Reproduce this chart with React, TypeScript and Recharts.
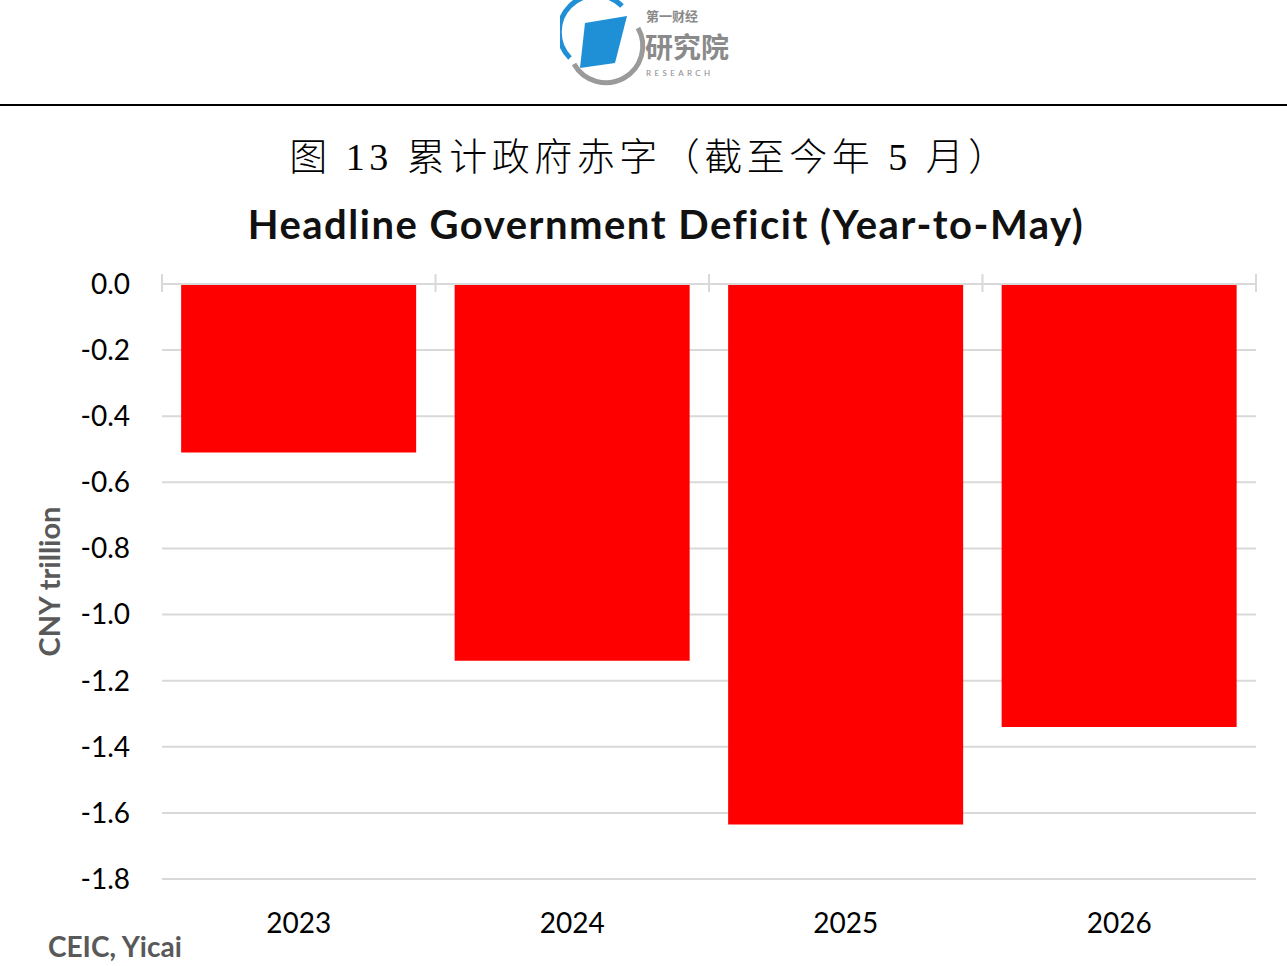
import { Bar, BarChart, CartesianGrid, XAxis, YAxis } from "recharts";

const years = ["2023", "2024", "2025", "2026"];
const deficit = [-0.51, -1.14, -1.635, -1.34];
const yTicks = [0, -0.2, -0.4, -0.6, -0.8, -1.0, -1.2, -1.4, -1.6, -1.8];

const data = years.map((year, i) => ({ year, deficit: deficit[i] }));

const sans = "Lato, 'Open Sans', 'Noto Sans', sans-serif";
const grid = "#d9d9d9";

const W = 1287;
const H = 966;
const margin = { top: 254, right: 31, left: 62, bottom: 17 };
const yAxisWidth = 100;
const band = (W - margin.left - margin.right - yAxisWidth) / years.length;

// category separators on the zero line, crossing it like Excel's tick marks
const EdgeTick = ({ x, y, index }: any) => {
  const left = x - band / 2;
  return (
    <g>
      <line x1={left} x2={left} y1={y - 10} y2={y + 8} stroke={grid} strokeWidth={2} />
      {index === years.length - 1 && (
        <line x1={x + band / 2} x2={x + band / 2} y1={y - 10} y2={y + 8} stroke={grid} strokeWidth={2} />
      )}
    </g>
  );
};

const Logo = () => (
  <svg width={200} height={90} style={{ position: "absolute", left: 560, top: 0 }}>
    <path d="M 62 6 A 36 36 0 0 0 10 58" fill="none" stroke="#1f8fd6" strokeWidth={5} />
    <path d="M 14 64 A 36 36 0 0 0 78 28" fill="none" stroke="#9a9a9a" strokeWidth={5} />
    <polygon points="25,23 67,16 55,63 20,68" fill="#1f8fd6" />
    <text x={86} y={21} fontSize={13} fill="#8a8a8a" fontFamily="'Noto Sans CJK SC'" fontWeight={700}>
      第一财经
    </text>
    <text x={85} y={58} fontSize={28} fill="#8a8a8a" fontFamily="'Noto Sans CJK SC'" fontWeight={700}>
      研究院
    </text>
    <text x={86} y={76} fontSize={8} fill="#8a8a8a" fontFamily={sans} letterSpacing={3.4}>
      RESEARCH
    </text>
  </svg>
);

export default function App() {
  return (
    <div style={{ position: "absolute", left: 0, top: 0, width: W, height: H, background: "#fff" }}>
      <Logo />
      <div style={{ position: "absolute", left: 0, top: 104, width: W, height: 2, background: "#000" }} />
      <div
        style={{
          position: "absolute",
          left: 0,
          top: 131,
          width: 1300,
          textAlign: "center",
          fontSize: 38,
          lineHeight: "52px",
          letterSpacing: 4.5,
          fontWeight: 300,
          fontFamily: "'Liberation Serif', 'Noto Sans CJK SC', serif",
          color: "#000",
          whiteSpace: "pre",
        }}
      >
        图 13 累计政府赤字（截至今年 5 月）
      </div>
      <div
        style={{
          position: "absolute",
          left: 0,
          top: 199,
          width: 1332,
          textAlign: "center",
          fontSize: 40,
          lineHeight: "50px",
          letterSpacing: 1.5,
          fontWeight: 700,
          fontFamily: sans,
          color: "#111",
        }}
      >
        Headline Government Deficit (Year-to-May)
      </div>
      <div
        style={{
          position: "absolute",
          left: 48,
          top: 928,
          fontSize: 28,
          lineHeight: "36px",
          fontWeight: 700,
          fontFamily: sans,
          color: "#595959",
        }}
      >
        CEIC, Yicai
      </div>
      <div style={{ position: "absolute", left: 0, top: 0 }}>
        <BarChart width={W} height={H} data={data} margin={margin} barCategoryGap="7%">
          <CartesianGrid horizontal vertical={false} stroke={grid} strokeWidth={2} />
          <XAxis
            xAxisId="edge"
            dataKey="year"
            orientation="top"
            height={30}
            stroke={grid}
            strokeWidth={2}
            tickSize={0}
            tickMargin={0}
            tick={EdgeTick}
          />
          <XAxis
            xAxisId="cat"
            dataKey="year"
            orientation="bottom"
            height={70}
            axisLine={false}
            tickLine={false}
            tickSize={0}
            tickMargin={34}
            tick={{ fontSize: 28, fill: "#000", fontFamily: sans }}
          />
          <YAxis
            domain={[-1.8, 0]}
            ticks={yTicks}
            width={yAxisWidth}
            axisLine={false}
            tickLine={false}
            tickSize={0}
            tickMargin={32}
            tickFormatter={(v: number) => v.toFixed(1)}
            tick={{ fontSize: 28, fill: "#000", fontFamily: sans }}
            label={{
              value: "CNY trillion",
              angle: -90,
              position: "insideLeft",
              offset: -12,
              style: { fontSize: 29, fontWeight: 700, fill: "#595959", fontFamily: sans, textAnchor: "middle" },
            }}
          />
          <Bar xAxisId="cat" dataKey="deficit" fill="#ff0000" isAnimationActive={false} />
        </BarChart>
      </div>
    </div>
  );
}
